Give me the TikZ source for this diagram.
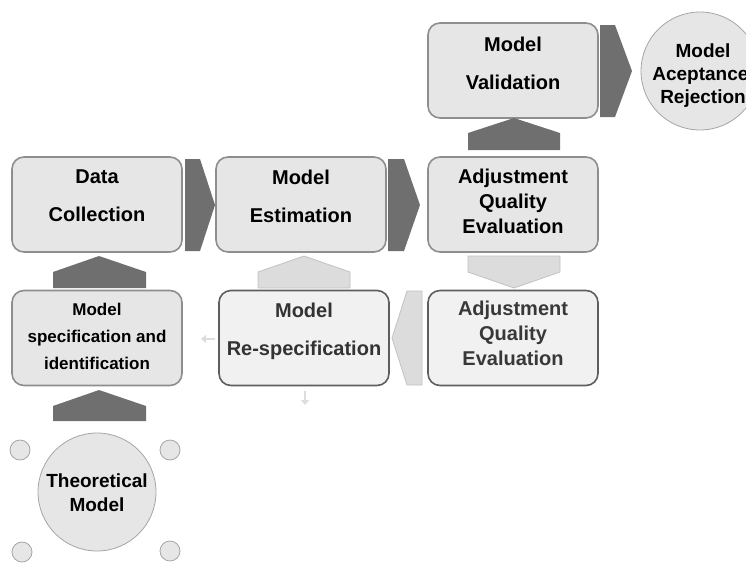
\documentclass[tikz,border=0pt]{standalone}
\usepackage{fontspec}
\setmainfont{Liberation Sans}
\usetikzlibrary{arrows.meta}
\definecolor{boxfill}{HTML}{E6E6E6}
\definecolor{boxline}{HTML}{8E8E8E}
\definecolor{lboxfill}{HTML}{F1F1F1}
\definecolor{lboxline}{HTML}{5E5E5E}
\definecolor{darkchev}{HTML}{6F6F6F}
\definecolor{lightchev}{HTML}{DCDCDC}
\definecolor{lightchevline}{HTML}{C2C2C2}
\definecolor{circfill}{HTML}{E6E6E6}
\definecolor{circline}{HTML}{A5A5A5}
\definecolor{ghost}{HTML}{DDDDDD}
\tikzset{
  stepbox/.style={draw=boxline, fill=boxfill, line width=1.6pt, rounded corners=12pt,
    minimum width=170pt, minimum height=95pt, inner sep=0pt},
  lstepbox/.style={stepbox, draw=lboxline, fill=lboxfill},
  lbl/.style={font=\bfseries\fontsize{20}{38}\selectfont, align=center, inner sep=0pt, text=black},
  lbltight/.style={font=\bfseries\fontsize{20}{25}\selectfont, align=center, inner sep=0pt, text=black},
  lblsmall/.style={font=\bfseries\fontsize{17}{27}\selectfont, align=center, inner sep=0pt, text=black},
  darkc/.style={fill=darkchev, draw=none},
  lightc/.style={fill=lightchev, draw=lightchevline, line width=0.8pt},
  bigcirc/.style={circle, draw=circline, fill=circfill, line width=0.8pt, minimum size=118pt, inner sep=0pt},
  smallcirc/.style={circle, draw=circline, fill=circfill, line width=0.8pt, minimum size=20pt, inner sep=0pt},
  ghostarrow/.style={draw=ghost, line width=2pt, -{Triangle[length=5pt,width=8pt]}}
}
\begin{document}
\begin{tikzpicture}[x=1pt,y=-1pt]
\useasboundingbox (0,0) rectangle (746,563);
% boxes
\node[stepbox] (dc) at (97,204.5) {};
\node[stepbox] (me) at (301,204.5) {};
\node[stepbox] (aq) at (513,204.5) {};
\node[stepbox] (mv) at (513,70.5) {};
\node[stepbox] (ms) at (97,338) {};
\node[lstepbox] (mr) at (304,338) {};
\node[lstepbox] (aq2) at (513,338) {};
% texts
\node[lbl] (tdc) at (97,196) {Data\\Collection};
\node[lbl] (tme) at (301,196) {Model\\Estimation};
\node[lbltight] (taq) at (513,201) {Adjustment\\Quality\\Evaluation};
\node[lbl] (tmv) at (513,63) {Model\\Validation};
\node[lblsmall] (tms) at (97,336) {Model\\specification and\\identification};
\node[lbl, text=black!80] (tmr) at (304,331) {Model\\Re-specification};
\node[lbltight, text=black!78] (taq2) at (513,333) {Adjustment\\Quality\\Evaluation};
% circles
\node[bigcirc] (acc) at (700,71) {};
\node[font=\bfseries\fontsize{19}{23}\selectfont, align=center, inner sep=0pt] (tacc) at (703,76) {Model\\Aceptance/\\Rejection};
\node[bigcirc] (th) at (97,492) {};
\node[font=\bfseries\fontsize{19}{24}\selectfont, align=center, inner sep=0pt] (tth) at (97,493) {Theoretical\\Model};
\node[smallcirc] (s1) at (20,450) {};
\node[smallcirc] (s2) at (170,450) {};
\node[smallcirc] (s3) at (22,552) {};
\node[smallcirc] (s4) at (170,551) {};
% dark chevrons (right)
\fill[darkc] (185,159) -- (200,159) -- (215,205) -- (200,251) -- (185,251) -- cycle;
\fill[darkc] (388,159) -- (404,159) -- (420,205) -- (404,251) -- (388,251) -- cycle;
\fill[darkc] (600,25) -- (615,25) -- (632,71) -- (615,117) -- (600,117) -- cycle;
% dark chevrons (up)
\fill[darkc] (468,150) -- (468,133) -- (514,118) -- (560,133) -- (560,150) -- cycle;
\fill[darkc] (53,288) -- (53,272) -- (99,256) -- (146,272) -- (146,288) -- cycle;
\fill[darkc] (53,421) -- (53,406) -- (99,390) -- (146,406) -- (146,421) -- cycle;
% light chevrons
\filldraw[lightc] (258,288) -- (258,272) -- (304,256) -- (350,272) -- (350,288) -- cycle;
\filldraw[lightc] (468,256) -- (560,256) -- (560,272) -- (514,288) -- (468,272) -- cycle;
\filldraw[lightc] (422,291) -- (422,385) -- (407,385) -- (392,338) -- (407,291) -- cycle;
% ghost arrows
\coordinate (ga1) at (215,339);
\coordinate (ga2) at (201,339);
\coordinate (gb1) at (305,391);
\coordinate (gb2) at (305,405);
\draw[ghostarrow] (ga1) -- (ga2);
\draw[ghostarrow] (gb1) -- (gb2);
\end{tikzpicture}
\end{document}
